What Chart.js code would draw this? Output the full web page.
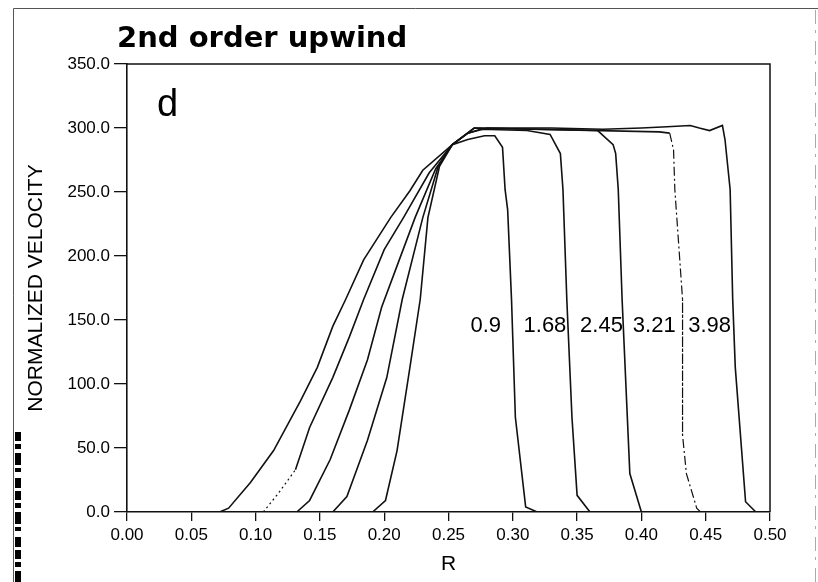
<!DOCTYPE html>
<html>
<head>
<meta charset="utf-8">
<script src="https://cdn.jsdelivr.net/npm/chart.js@4.4.0/dist/chart.umd.min.js"></script>
<style>
  body { margin: 0; background: #fff; }
  canvas { display: block; }
</style>
</head>
<body>
<canvas id="velChart" width="818" height="582"></canvas>
<script>
// Velocity profiles at five times (2nd order upwind scheme)
var times = ["0.9", "1.68", "2.45", "3.21", "3.98"];

var r09 = [0, 0.185, 0.191, 0.201, 0.210, 0.220, 0.228, 0.234, 0.243, 0.253, 0.265, 0.278, 0.286, 0.292, 0.294, 0.296, 0.299, 0.302, 0.310, 0.319, 0.5];
var v09 = [0, 0, 0, 9, 48, 113, 166, 230, 270, 287, 291, 294, 294, 285, 252, 236, 166, 74, 4, 0, 0];

var r168 = [0, 0.160, 0.171, 0.187, 0.202, 0.214, 0.230, 0.242, 0.253, 0.265, 0.275, 0.311, 0.329, 0.337, 0.339, 0.342, 0.346, 0.350, 0.360, 0.5];
var v168 = [0, 0, 12, 56, 105, 166, 230, 270, 287, 296, 299, 298, 295, 280, 252, 166, 74, 13, 0, 0];

var r245 = [0, 0.132, 0.142, 0.158, 0.173, 0.187, 0.198, 0.211, 0.224, 0.240, 0.253, 0.270, 0.366, 0.378, 0.380, 0.382, 0.385, 0.391, 0.400, 0.5];
var v245 = [0, 0, 9, 41, 80, 119, 160, 195, 230, 268, 287, 300, 298, 287, 280, 252, 166, 30, 0, 0];

var r321 = [0, 0.106, 0.118, 0.131, 0.142, 0.160, 0.173, 0.184, 0.200, 0.215, 0.235, 0.253, 0.270, 0.414, 0.422, 0.425, 0.426, 0.432, 0.432, 0.435, 0.443, 0.446, 0.5];
var v321 = [0, 0, 15, 33, 66, 105, 137, 166, 205, 230, 265, 287, 300, 297, 296, 283, 252, 166, 60, 30, 3, 0, 0];

var r398 = [0, 0.072, 0.079, 0.096, 0.114, 0.135, 0.148, 0.160, 0.170, 0.184, 0.205, 0.220, 0.230, 0.253, 0.265, 0.280, 0.330, 0.370, 0.400, 0.420, 0.438, 0.445, 0.453, 0.463, 0.465, 0.469, 0.471, 0.473, 0.481, 0.489, 0.5];
var v398 = [0, 0, 3, 23, 48, 87, 113, 145, 166, 197, 230, 251, 267, 287, 296, 300, 300, 299, 300, 301, 302, 300, 298, 302, 291, 252, 166, 113, 8, 0, 0];

// where the time labels sit
var labelR = [0.279, 0.325, 0.369, 0.410, 0.453];
var labelV = 145;

var xTicks = { min: 0, max: 0.5, step: 0.05 };
var yTicks = { min: 0, max: 350, step: 50 };

function toPoints(rs, vs) {
    return rs.map(function(r, i) { return { x: r, y: vs[i] }; });
}

function profile(label, rs, vs) {
    return {
        label: label,
        data: toPoints(rs, vs),
        borderColor: "#111",
        borderWidth: 1.6,
        pointRadius: 0,
        tension: 0,
        fill: false
    };
}

var sets = [
    profile("0.9", r09, v09),
    profile("1.68", r168, v168),
    profile("2.45", r245, v245),
    profile("3.21", r321, v321),
    profile("3.98", r398, v398)
];

// 3.21 is drawn broken: dotted at the foot, dash-dot down the front
sets[3].segment = {
    borderDash: function(ctx) {
        var i = ctx.p0DataIndex;
        if (i === 1 || i === 2) return [2, 3];
        if (i >= 14 && i <= 20) return [9, 3, 2, 3];
        return undefined;
    },
    borderWidth: function(ctx) {
        var i = ctx.p0DataIndex;
        return (i === 1 || i === 2 || (i >= 14 && i <= 20)) ? 1.2 : undefined;
    }
};

// frame, heading, panel letter and time labels
var decorations = {
    id: "decorations",
    afterDraw: function(chart) {
        var c = chart.ctx;
        var a = chart.chartArea;
        var xs = chart.scales.x, ys = chart.scales.y;
        c.save();

        // plot box (top and right sides)
        c.strokeStyle = "#111";
        c.lineWidth = 1.5;
        c.beginPath();
        c.moveTo(a.left, a.top);
        c.lineTo(a.right, a.top);
        c.lineTo(a.right, a.bottom);
        c.stroke();

        // page frame
        c.strokeStyle = "#555";
        c.lineWidth = 1;
        c.beginPath();
        c.moveTo(13.5, 582);
        c.lineTo(13.5, 8.5);
        c.lineTo(818, 8.5);
        c.stroke();
        c.setLineDash([14, 6, 3, 8]);
        c.strokeStyle = "#aaa";
        c.beginPath();
        c.moveTo(815.5, 10);
        c.lineTo(815.5, 582);
        c.stroke();

        // smudged edge at lower left
        c.setLineDash([9, 3, 5, 4, 12, 3, 4, 6, 10, 3]);
        c.strokeStyle = "#000";
        c.lineWidth = 6;
        c.beginPath();
        c.moveTo(18, 432);
        c.lineTo(18, 582);
        c.stroke();
        c.setLineDash([]);

        c.fillStyle = "#000";
        c.textBaseline = "alphabetic";
        c.textAlign = "left";
        c.font = "bold 29px 'DejaVu Sans'";
        c.fillText("2nd order upwind", 117, 47);

        c.font = "38px 'Liberation Sans'";
        c.fillText("d", 157, 116);

        c.font = "22px 'Liberation Sans Narrow', 'Liberation Sans'";
        c.textAlign = "center";
        c.textBaseline = "middle";
        for (var i = 0; i < times.length; i++) {
            c.fillText(times[i], xs.getPixelForValue(labelR[i]), ys.getPixelForValue(labelV));
        }
        c.restore();
    }
};

var tickFont = { family: "'Liberation Sans'", size: 17 };

new Chart(document.getElementById("velChart"), {
    type: "line",
    data: { datasets: sets },
    options: {
        responsive: false,
        animation: false,
        devicePixelRatio: 1,
        layout: { padding: { top: 64, right: 48, left: 0, bottom: 0 } },
        plugins: {
            legend: { display: false },
            tooltip: { enabled: false },
            title: { display: false }
        },
        scales: {
            x: {
                type: "linear",
                min: xTicks.min,
                max: xTicks.max,
                afterFit: function(scale) { scale.height = 70; },
                ticks: {
                    stepSize: xTicks.step,
                    color: "#000",
                    font: tickFont,
                    padding: 4,
                    maxRotation: 0,
                    callback: function(v) { return v.toFixed(2); }
                },
                grid: { drawOnChartArea: false, drawTicks: true, tickLength: 9, color: "#111", lineWidth: 1.3 },
                border: { display: true, color: "#111", width: 1.6 },
                title: {
                    display: true,
                    text: "R",
                    color: "#000",
                    font: { family: "'Liberation Sans'", size: 21 },
                    padding: { top: 0, bottom: 5 }
                }
            },
            y: {
                min: yTicks.min,
                max: yTicks.max,
                afterFit: function(scale) { scale.width = 127; },
                ticks: {
                    stepSize: yTicks.step,
                    color: "#000",
                    font: tickFont,
                    padding: 4,
                    callback: function(v) { return v.toFixed(1); }
                },
                grid: { drawOnChartArea: false, drawTicks: true, tickLength: 13, color: "#111", lineWidth: 1.3 },
                border: { display: true, color: "#111", width: 1.6 },
                title: {
                    display: true,
                    text: "NORMALIZED VELOCITY",
                    color: "#000",
                    font: { family: "'Liberation Sans'", size: 21 },
                    padding: { top: 24, bottom: 0 }
                }
            }
        }
    },
    plugins: [decorations]
});
</script>
</body>
</html>
